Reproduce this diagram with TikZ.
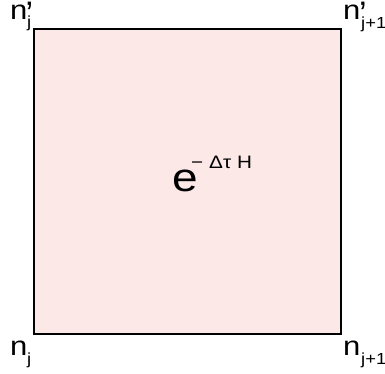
\documentclass[tikz,border=0pt]{standalone}
\usepackage{fontspec}
\setmainfont{Liberation Sans}
\newfontfamily\wide[FakeStretch=1.15]{Liberation Sans}
\definecolor{boxfill}{RGB}{253,232,232}
\begin{document}
\begin{tikzpicture}[x=1pt,y=-1pt,
  lbl/.style={inner sep=0pt,anchor=base west,font=\wide\fontsize{27}{27}\selectfont},
  sub/.style={inner sep=0pt,anchor=base west,font=\wide\fontsize{16}{16}\selectfont},
  pr/.style={inner sep=0pt,anchor=base west,font=\fontsize{34}{34}\selectfont},
  sup/.style={inner sep=0pt,anchor=base west,font=\wide\fontsize{18}{18}\selectfont}]
\useasboundingbox (0,0) rectangle (385,373);
\draw[fill=boxfill,line width=1.3pt] (34,29) rectangle (341,334);
% top left
\node[lbl] (ntl) at (10,19) {n};
\node[pr] (ptl) at (25.5,25) {’};
\node[sub] (stl) at (27,27) {j};
% top right
\node[lbl] (ntr) at (343,19) {n};
\node[pr] (ptr) at (359,25) {’};
\node[sub] (str) at (361,28) {j+1};
% bottom left
\node[lbl] (nbl) at (10,355) {n};
\node[sub] (sbl) at (27,364) {j};
% bottom right
\node[lbl] (nbr) at (343,355) {n};
\node[sub] (sbr) at (361,364) {j+1};
% center
\node[inner sep=0pt,anchor=base west,font=\wide\fontsize{40}{40}\selectfont] (e) at (172,191) {e};
\node[sup] (minus) at (191,168) {−};
\node[sup] (dt) at (209,168) {Δτ};
\node[sup] (h) at (237,168) {H};
\end{tikzpicture}
\end{document}
